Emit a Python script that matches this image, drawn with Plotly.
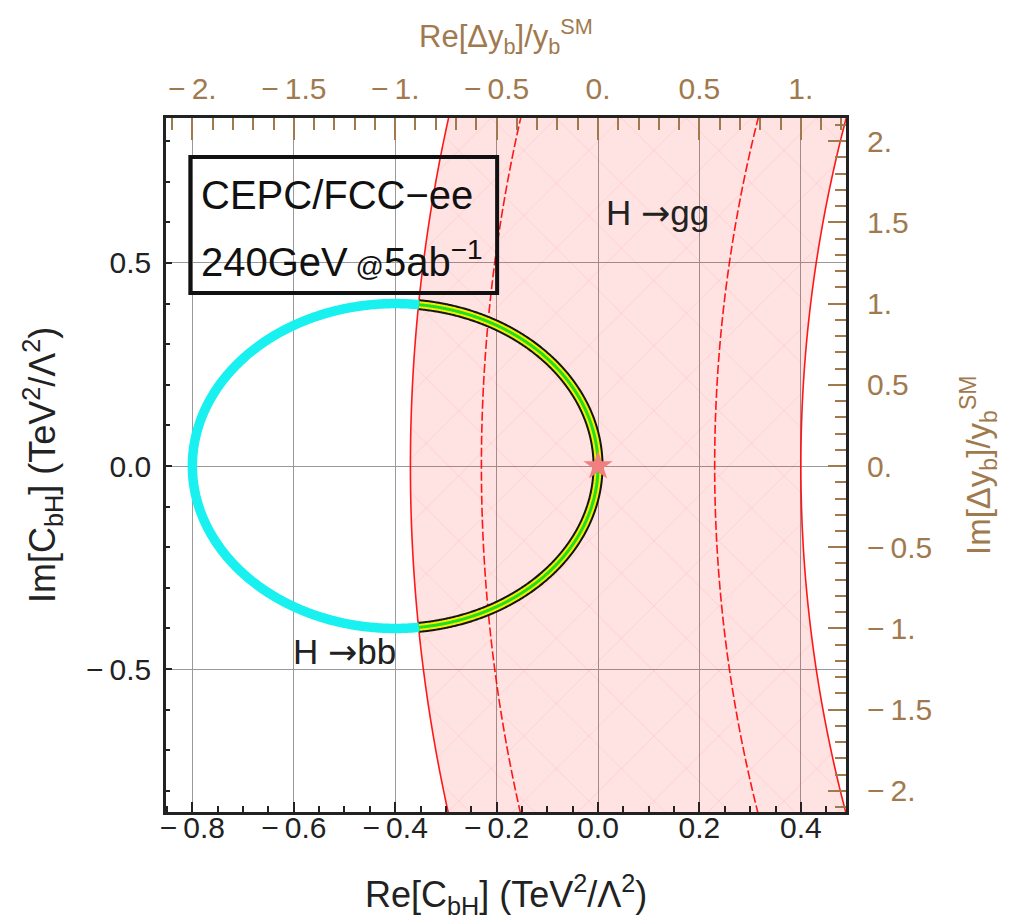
import numpy as np
import plotly.graph_objects as go

# ---------------- data ----------------
x_ticks = [-0.8, -0.6, -0.4, -0.2, 0.0, 0.2, 0.4]
x_tick_labels = ["\u2212\u20090.8", "\u2212\u20090.6", "\u2212\u20090.4", "\u2212\u20090.2", "0.0", "0.2", "0.4"]
y_ticks = [-0.5, 0.0, 0.5]
y_tick_labels = ["\u2212\u20090.5", "0.0", "0.5"]
top_ticks = [-2.0, -1.5, -1.0, -0.5, 0.0, 0.5, 1.0]
top_tick_labels = ["\u2212\u20092.", "\u2212\u20091.5", "\u2212\u20091.", "\u2212\u20090.5", "0.", "0.5", "1."]
right_ticks = [-2.0, -1.5, -1.0, -0.5, 0.0, 0.5, 1.0, 1.5, 2.0]
right_tick_labels = ["\u2212\u20092.", "\u2212\u20091.5", "\u2212\u20091.", "\u2212\u20090.5", "0.",
                     "0.5", "1.", "1.5", "2."]

x_range = [-0.852, 0.489]
y_range = [-0.852, 0.857]
yukawa_scale = 2.5          # Δy_b / y_b^SM per unit of C_bH

# H -> bb ring (circle in the C_bH plane)
bb_center_re = -0.4
bb_center_im = 0.0
bb_radius = 0.4

# H -> gg band: concentric circular contours
gg_center_re = 4.55
gg_outer_left_radius = 4.92
gg_inner_left_radius = 4.78
gg_inner_right_radius = 4.32
gg_outer_right_radius = 4.15

sm_re = [0.0]
sm_im = [0.0]

BROWN = "#A07A4E"
FONT = "Liberation Sans, Arial, Helvetica, sans-serif"
ARROW = "<span style='font-family:DejaVu Sans'>\u2192</span>"

# ---------------- geometry ----------------
im_vals = np.linspace(-1.0, 1.0, 401)


def gg_contour(radius):
    return gg_center_re - np.sqrt(radius ** 2 - im_vals ** 2)


left_outer = gg_contour(gg_outer_left_radius)
right_outer = gg_contour(gg_outer_right_radius)
left_inner = gg_contour(gg_inner_left_radius)
right_inner = gg_contour(gg_inner_right_radius)

theta = np.linspace(-np.pi, np.pi, 1441)
bb_re = bb_center_re + bb_radius * np.cos(theta)
bb_im = bb_center_im + bb_radius * np.sin(theta)
in_band = bb_re >= gg_center_re - np.sqrt(gg_outer_left_radius ** 2 - bb_im ** 2)
arc_re = bb_re[in_band]
arc_im = bb_im[in_band]

fig = go.Figure()

# pink band
fig.add_trace(go.Scatter(
    x=np.concatenate([left_outer, right_outer[::-1]]),
    y=np.concatenate([im_vals, im_vals[::-1]]),
    fill="toself", fillcolor="rgba(255,0,0,0.115)",
    fillpattern=dict(shape="x", size=46, solidity=0.04, fgcolor="rgba(255,0,0,0.16)", fillmode="overlay"),
    line=dict(width=0), mode="lines", hoverinfo="skip", showlegend=False))

for xs, dash in [(left_outer, "solid"), (right_outer, "solid"), (left_inner, "9px,3px"), (right_inner, "9px,3px")]:
    fig.add_trace(go.Scatter(x=xs, y=im_vals, mode="lines",
                             line=dict(color="rgba(255,0,0,0.9)", width=1.6, dash=dash, simplify=False),
                             hoverinfo="skip", showlegend=False))

# H -> bb ring
fig.add_trace(go.Scatter(x=bb_re, y=bb_im, mode="lines",
                         line=dict(color="#19F0F0", width=9.5, simplify=False),
                         hoverinfo="skip", showlegend=False))
fig.add_trace(go.Scatter(x=arc_re, y=arc_im, mode="lines",
                         line=dict(color="#151510", width=11, simplify=False),
                         hoverinfo="skip", showlegend=False))
fig.add_trace(go.Scatter(x=arc_re, y=arc_im, mode="lines",
                         line=dict(color="#F2F000", width=7, simplify=False),
                         hoverinfo="skip", showlegend=False))
fig.add_trace(go.Scatter(x=arc_re, y=arc_im, mode="lines",
                         line=dict(color="#22DD22", width=3, simplify=False),
                         hoverinfo="skip", showlegend=False))

# SM point
fig.add_trace(go.Scatter(x=sm_re, y=sm_im, mode="markers",
                         marker=dict(symbol="star", size=22, color="#F08080", line=dict(width=0)),
                         hoverinfo="skip", showlegend=False))

# dummy trace for secondary axes
fig.add_trace(go.Scatter(x=[None], y=[None], xaxis="x2", yaxis="y2", mode="markers",
                         hoverinfo="skip", showlegend=False))

common_font = dict(family=FONT, size=30, color="#222222")
brown_font = dict(family=FONT, size=30, color=BROWN)

# the page body adds an 8px offset, so the figure is drawn 8px smaller
fig.update_layout(
    width=1003, height=915,
    margin=dict(l=158, r=165, t=110, b=111, autoexpand=False),
    paper_bgcolor="white", plot_bgcolor="white",
    font=dict(family=FONT),
    xaxis=dict(range=x_range, tickmode="array", tickvals=x_ticks, ticktext=x_tick_labels,
               ticks="inside", ticklen=10, tickwidth=2, tickcolor="#222222",
               minor=dict(tickmode="linear", tick0=0, dtick=0.05, ticks="inside", ticklen=6,
                          tickwidth=2, tickcolor="#222222", showgrid=False),
               showgrid=True, gridcolor="#9a9a9a", gridwidth=1.4, zeroline=False,
               showline=True, linecolor="#222222", linewidth=2.5, mirror=True,
               tickfont=common_font, ticklabelstandoff=-13, automargin=False),
    yaxis=dict(range=y_range, tickmode="array", tickvals=y_ticks, ticktext=y_tick_labels,
               ticks="inside", ticklen=6, tickwidth=2, tickcolor="#222222",
               minor=dict(tickmode="linear", tick0=0, dtick=0.1, ticks="inside", ticklen=4,
                          tickwidth=2, tickcolor="#222222", showgrid=False),
               showgrid=True, gridcolor="#9a9a9a", gridwidth=1.4, zeroline=False,
               showline=True, linecolor="#222222", linewidth=2.5, mirror=True,
               tickfont=common_font, ticklabelstandoff=6, automargin=False),
    xaxis2=dict(overlaying="x", side="top", anchor="y",
                range=[v * yukawa_scale for v in x_range],
                tickmode="array", tickvals=top_ticks, ticktext=top_tick_labels,
                ticks="inside", ticklen=22, tickwidth=2, tickcolor=BROWN,
                minor=dict(tickmode="linear", tick0=0, dtick=0.1, ticks="inside", ticklen=12,
                           tickwidth=2, tickcolor=BROWN, showgrid=False),
                showgrid=False, zeroline=False, showline=False,
                tickfont=brown_font, ticklabelstandoff=12, automargin=False),
    yaxis2=dict(overlaying="y", side="right", anchor="x",
                range=[v * yukawa_scale for v in y_range],
                tickmode="array", tickvals=right_ticks, ticktext=right_tick_labels,
                ticks="inside", ticklen=18, tickwidth=2, tickcolor=BROWN,
                minor=dict(tickmode="linear", tick0=0, dtick=0.1, ticks="inside", ticklen=11,
                           tickwidth=2, tickcolor=BROWN, showgrid=False),
                showgrid=False, zeroline=False, showline=False,
                tickfont=brown_font, ticklabelstandoff=20, automargin=False),
)

# legend-like box
fig.add_shape(type="rect", xref="x", yref="y", x0=-0.804, x1=-0.199, y0=0.426, y1=0.761,
              line=dict(color="#111111", width=4), fillcolor="rgba(0,0,0,0)", layer="above")

annotations = [
    dict(x=-0.787, y=0.668, xref="x", yref="y", xanchor="left", yanchor="middle",
         text="CEPC/FCC\u2212ee", showarrow=False, font=dict(family=FONT, size=40, color="#111111")),
    dict(x=-0.787, y=0.51, xref="x", yref="y", xanchor="left", yanchor="middle",
         text="240GeV<span style='font-size:28px'> @</span>5ab<sup>\u22121</sup>", showarrow=False,
         font=dict(family=FONT, size=40, color="#111111")),
    dict(x=0.118, y=0.624, xref="x", yref="y", xanchor="center", yanchor="middle",
         text="H " + ARROW + "gg", showarrow=False, font=dict(family=FONT, size=35, color="#222222")),
    dict(x=-0.5, y=-0.458, xref="x", yref="y", xanchor="center", yanchor="middle",
         text="H " + ARROW + "bb", showarrow=False, font=dict(family=FONT, size=35, color="#222222")),
    # axis titles
    dict(x=0.5, y=0, xref="paper", yref="paper", xanchor="center", yanchor="middle", yshift=-82,
         text="Re[C<sub>bH</sub>] (TeV<sup>2</sup>/\u039b<sup>2</sup>)", showarrow=False,
         font=dict(family=FONT, size=36, color="#222222")),
    dict(x=0, y=0.5, xref="paper", yref="paper", xanchor="center", yanchor="middle", xshift=-124,
         textangle=-90,
         text="Im[C<sub>bH</sub>] (TeV<sup>2</sup>/\u039b<sup>2</sup>)", showarrow=False,
         font=dict(family=FONT, size=36, color="#222222")),
    dict(x=0.5, y=1, xref="paper", yref="paper", xanchor="center", yanchor="middle", yshift=82,
         text="Re[\u0394y<sub>b</sub>]/y<sub>b</sub><sup>SM</sup>", showarrow=False,
         font=dict(family=FONT, size=31, color=BROWN)),
    dict(x=1, y=0.5, xref="paper", yref="paper", xanchor="center", yanchor="middle", xshift=132,
         textangle=-90,
         text="Im[\u0394y<sub>b</sub>]/y<sub>b</sub><sup>SM</sup>", showarrow=False,
         font=dict(family=FONT, size=33, color=BROWN)),
]
fig.update_layout(annotations=annotations)

fig.write_html("out.html")
